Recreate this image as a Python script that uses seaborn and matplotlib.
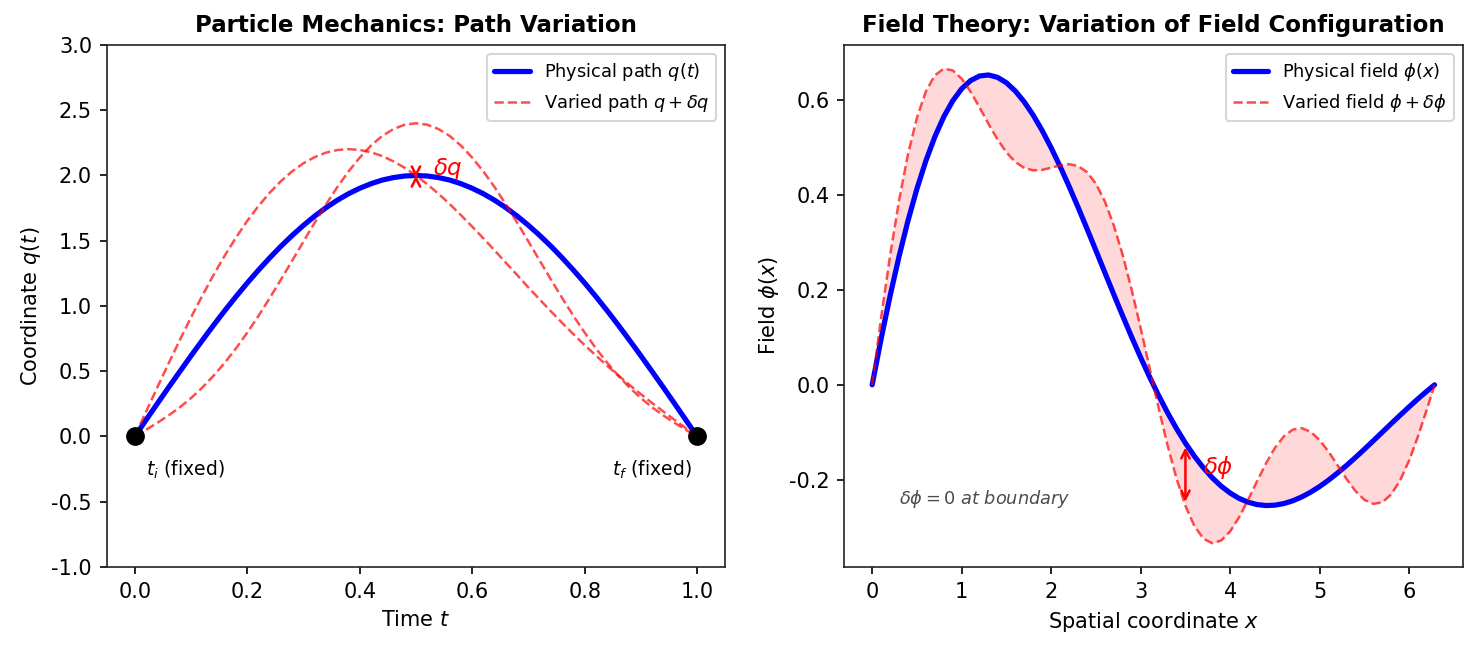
import numpy as np
import seaborn as sns
import matplotlib.pyplot as plt

# --- datos ---
# panel izquierdo: trayectoria q(t)
t_vals = np.linspace(0, 1, 51)
q_fisico = [0.000, 0.126, 0.251, 0.375, 0.497, 0.618, 0.736, 0.852, 0.964, 1.072,
            1.176, 1.275, 1.369, 1.458, 1.541, 1.618, 1.689, 1.753, 1.810, 1.860,
            1.902, 1.937, 1.965, 1.984, 1.996, 2.000, 1.996, 1.984, 1.965, 1.937,
            1.902, 1.860, 1.810, 1.753, 1.689, 1.618, 1.541, 1.458, 1.369, 1.275,
            1.176, 1.072, 0.964, 0.852, 0.736, 0.618, 0.497, 0.375, 0.251, 0.126, 0.000]
q_variado_1 = [0.000, 0.189, 0.375, 0.559, 0.738, 0.912, 1.078, 1.237, 1.386, 1.524,
               1.652, 1.766, 1.868, 1.957, 2.032, 2.094, 2.141, 2.175, 2.195, 2.202,
               2.196, 2.178, 2.149, 2.108, 2.059, 2.000, 1.933, 1.860, 1.781, 1.696,
               1.608, 1.518, 1.425, 1.331, 1.237, 1.142, 1.050, 0.959, 0.870, 0.784,
               0.700, 0.620, 0.542, 0.467, 0.394, 0.324, 0.256, 0.191, 0.127, 0.063, 0.000]
q_variado_2 = [0.000, 0.051, 0.104, 0.161, 0.223, 0.294, 0.374, 0.465, 0.565, 0.675,
               0.796, 0.924, 1.061, 1.203, 1.348, 1.494, 1.639, 1.778, 1.910, 2.030,
               2.137, 2.229, 2.303, 2.356, 2.389, 2.400, 2.389, 2.356, 2.303, 2.229,
               2.137, 2.030, 1.910, 1.778, 1.639, 1.494, 1.348, 1.203, 1.061, 0.924,
               0.796, 0.675, 0.565, 0.465, 0.374, 0.294, 0.223, 0.161, 0.104, 0.051, 0.000]
extremos_t = [0.0, 1.0]
extremos_q = [0.0, 0.0]
dq_inicio, dq_fin = 2.000, 1.984   # flecha diminuta en t = 0.5

# panel derecho: campo phi(x)
x_vals = np.append(np.linspace(0, 6.2, 63), 2 * np.pi)
phi_fisico = [0.0000, 0.0969, 0.1871, 0.2701, 0.3454, 0.4127, 0.4716, 0.5222, 0.5643, 0.5980,
              0.6234, 0.6407, 0.6503, 0.6524, 0.6475, 0.6360, 0.6185, 0.5955, 0.5675, 0.5352,
              0.4990, 0.4597, 0.4179, 0.3740, 0.3288, 0.2827, 0.2363, 0.1901, 0.1446, 0.1002,
              0.0574, 0.0164, -0.0223, -0.0586, -0.0921, -0.1228, -0.1503, -0.1746, -0.1957, -0.2135,
              -0.2279, -0.2392, -0.2472, -0.2522, -0.2542, -0.2534, -0.2500, -0.2441, -0.2360, -0.2259,
              -0.2140, -0.2005, -0.1856, -0.1697, -0.1529, -0.1355, -0.1176, -0.0996, -0.0815, -0.0637,
              -0.0462, -0.0292, -0.0129, 0.0000]
phi_variado = [0.0000, 0.1412, 0.2718, 0.3876, 0.4852, 0.5623, 0.6177, 0.6517, 0.6656, 0.6621,
               0.6446, 0.6170, 0.5839, 0.5492, 0.5168, 0.4894, 0.4691, 0.4566, 0.4516, 0.4526,
               0.4571, 0.4622, 0.4646, 0.4608, 0.4479, 0.4234, 0.3861, 0.3356, 0.2728, 0.1996,
               0.1192, 0.0351, -0.0484, -0.1272, -0.1971, -0.2548, -0.2974, -0.3238, -0.3336, -0.3278,
               -0.3084, -0.2787, -0.2422, -0.2031, -0.1654, -0.1328, -0.1084, -0.0942, -0.0912, -0.0990,
               -0.1165, -0.1410, -0.1694, -0.1983, -0.2238, -0.2423, -0.2507, -0.2472, -0.2304, -0.2006,
               -0.1588, -0.1075, -0.0499, 0.0000]
i_flecha = 35   # x = 3.5

# --- estilo ---
sns.set_style("ticks", rc={"axes.edgecolor": "#222222", "text.color": "black",
                           "axes.labelcolor": "black", "xtick.color": "black",
                           "ytick.color": "black", "xtick.major.size": 3.5,
                           "ytick.major.size": 3.5})
plt.rcParams["axes.unicode_minus"] = False
plt.rcParams["font.family"] = ["DejaVu Sans"]

fig, (ax1, ax2) = plt.subplots(1, 2, figsize=(1477 / 150, 652 / 150), dpi=150)
fig.subplots_adjust(left=0.0722, right=0.9903, bottom=0.1304, top=0.931, wspace=0.192)

# panel izquierdo
sns.lineplot(x=t_vals, y=q_fisico, ax=ax1, color="blue", lw=2.5, label=r"Physical path $q(t)$")
sns.lineplot(x=t_vals, y=q_variado_1, ax=ax1, color="red", lw=1.2, ls="--", alpha=0.7,
             label=r"Varied path $q + \delta q$")
sns.lineplot(x=t_vals, y=q_variado_2, ax=ax1, color="red", lw=1.2, ls="--", alpha=0.7)
ax1.plot(extremos_t, extremos_q, "ko", markersize=8, zorder=5)
ax1.annotate("", xy=(t_vals[25], dq_fin), xytext=(t_vals[25], dq_inicio),
             arrowprops=dict(arrowstyle="<->", color="red", lw=1.2))
ax1.text(t_vals[25] + 0.03, dq_inicio, r"$\delta q$", color="red", fontsize=11)
ax1.text(extremos_t[0] + 0.02, -0.3, r"$t_i$ (fixed)", fontsize=9)
ax1.text(extremos_t[1] - 0.01, -0.3, r"$t_f$ (fixed)", fontsize=9, ha="right")
ax1.set_ylim(-1, 3)
ax1.set_xlabel(r"Time $t$", fontsize=10)
ax1.set_ylabel(r"Coordinate $q(t)$", fontsize=10)
ax1.set_title("Particle Mechanics: Path Variation", fontsize=11, fontweight="bold")
ax1.legend(loc="upper right", fontsize=8.5)

# panel derecho
sns.lineplot(x=x_vals, y=phi_fisico, ax=ax2, color="blue", lw=2.5, label=r"Physical field $\phi(x)$")
sns.lineplot(x=x_vals, y=phi_variado, ax=ax2, color="red", lw=1.2, ls="--", alpha=0.7,
             label=r"Varied field $\phi + \delta\phi$")
ax2.fill_between(x_vals, phi_fisico, phi_variado, color="red", alpha=0.15, lw=0)
ax2.annotate("", xy=(x_vals[i_flecha], phi_variado[i_flecha]),
             xytext=(x_vals[i_flecha], phi_fisico[i_flecha]),
             arrowprops=dict(arrowstyle="<->", color="red", lw=1.2))
ax2.text(x_vals[i_flecha] + 0.2, (phi_fisico[i_flecha] + phi_variado[i_flecha]) / 2,
         r"$\delta\phi$", color="red", fontsize=11)
ax2.text(0.3, -0.25, r"$\delta\phi = 0$ at boundary", fontsize=8.5, style="italic",
         color="black", alpha=0.7)
ax2.set_xlabel(r"Spatial coordinate $x$", fontsize=10)
ax2.set_ylabel(r"Field $\phi(x)$", fontsize=10)
ax2.set_title("Field Theory: Variation of Field Configuration", fontsize=11, fontweight="bold")
ax2.legend(loc="upper right", fontsize=8.5)

for ax in (ax1, ax2):
    ax.tick_params(labelsize=10)

fig.savefig("out.png", dpi=150)
